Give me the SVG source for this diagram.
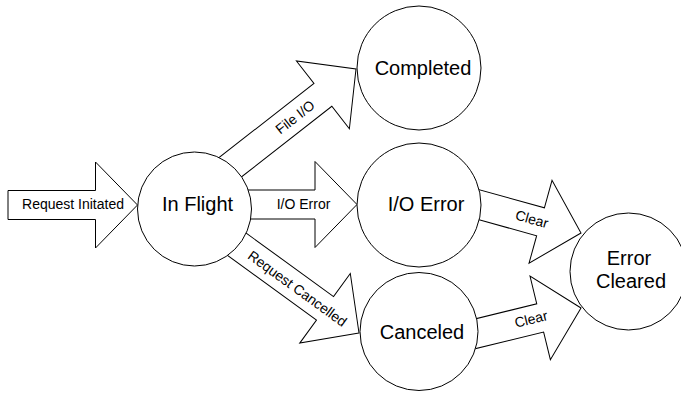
<svg xmlns="http://www.w3.org/2000/svg" width="681" height="394" viewBox="0 0 681 394">
<defs>
<style>
.arrow{fill:#fff;stroke:#000;stroke-width:1;stroke-linejoin:miter}
.node{fill:#fff;stroke:#000;stroke-width:1}
.lbl{font-family:"Liberation Sans",Arial,sans-serif;font-size:14px;fill:#000;text-anchor:middle}
.ntx{font-family:"Liberation Sans",Arial,sans-serif;font-size:20px;fill:#000;text-anchor:middle}
</style>
</defs>
<rect width="681" height="394" fill="#fff"/>
<g id="connectors">
<g id="c-request-initiated" transform="translate(137.5,205) rotate(0)">
<polygon class="arrow" points="0,0 -42,43 -42,14.5 -129.5,14.5 -129.5,-14.5 -42,-14.5 -42,-43"/>
</g>
<g id="c-io-error" transform="translate(357,204.5) rotate(0)">
<polygon class="arrow" points="0,0 -42,43 -42,14.5 -117,14.5 -117,-14.5 -42,-14.5 -42,-43"/>
</g>
<g id="c-file-io" transform="translate(356,69) rotate(-38)">
<polygon class="arrow" points="0,0 -42,43 -42,14.5 -165,14.5 -165,-14.5 -42,-14.5 -42,-43"/>
</g>
<g id="c-request-cancelled" transform="translate(359,333) rotate(36)">
<polygon class="arrow" points="0,0 -42,43 -42,14.5 -165,14.5 -165,-14.5 -42,-14.5 -42,-43"/>
</g>
<g id="c-clear-1" transform="translate(581,233) rotate(15.5)">
<polygon class="arrow" points="0,0 -42,43 -42,14.5 -115,14.5 -115,-14.5 -42,-14.5 -42,-43"/>
</g>
<g id="c-clear-2" transform="translate(581,308) rotate(-13.7)">
<polygon class="arrow" points="0,0 -42,43 -42,14.5 -115,14.5 -115,-14.5 -42,-14.5 -42,-43"/>
</g>
<text class="lbl" x="73" y="209">Request Initated</text>
<text class="lbl" x="303.5" y="208.5">I/O Error</text>
<text class="lbl" transform="translate(295,117) rotate(-38)" x="0" y="5">File I/O</text>
<text class="lbl" transform="translate(297.5,288.5) rotate(36)" x="0" y="5">Request Cancelled</text>
<text class="lbl" transform="translate(532,219) rotate(15.5)" x="0" y="5">Clear</text>
<text class="lbl" transform="translate(531,319) rotate(-13.7)" x="0" y="5">Clear</text>
</g>
<g id="n-in-flight">
<circle class="node" cx="194.5" cy="209" r="57"/>
<text class="ntx" x="197.5" y="211">In Flight</text>
</g>
<g id="n-completed">
<circle class="node" cx="419" cy="68" r="62"/>
<text class="ntx" x="423" y="75">Completed</text>
</g>
<g id="n-io-error">
<circle class="node" cx="419" cy="205" r="62"/>
<text class="ntx" x="426" y="211">I/O Error</text>
</g>
<g id="n-canceled">
<circle class="node" cx="419" cy="331.5" r="59"/>
<text class="ntx" x="422" y="339">Canceled</text>
</g>
<g id="n-error-cleared">
<circle class="node" cx="628.5" cy="271.5" r="58.5"/>
<text class="ntx" x="629" y="265">Error</text>
<text class="ntx" x="631" y="288">Cleared</text>
</g>
</svg>
